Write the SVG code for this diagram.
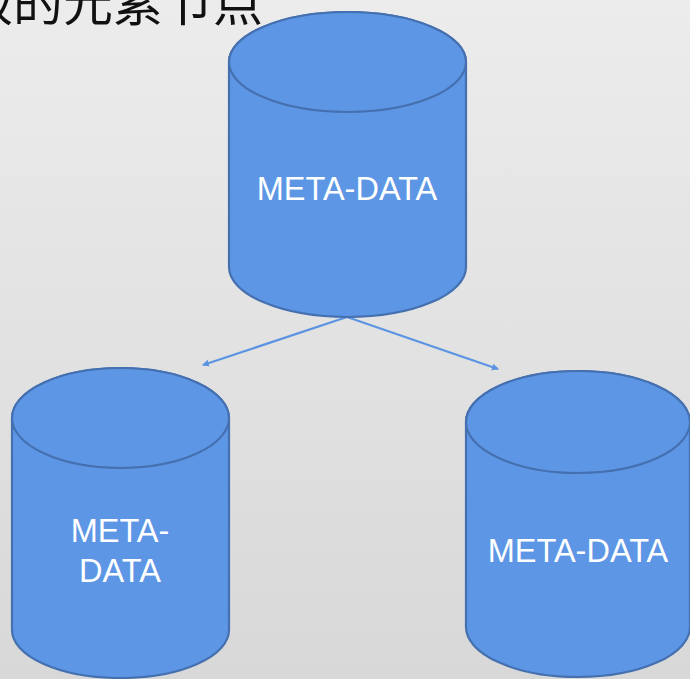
<svg xmlns="http://www.w3.org/2000/svg" width="690" height="679" viewBox="0 0 690 679">
<defs>
<linearGradient id="bg" x1="0" y1="0" x2="0" y2="1">
<stop offset="0" stop-color="#ececec"/>
<stop offset="1" stop-color="#d8d8d8"/>
</linearGradient>
<marker id="ah" markerWidth="8" markerHeight="8" refX="6" refY="4" orient="auto" markerUnits="userSpaceOnUse">
<path d="M0,0.5 L7,4 L0,7.5 Z" fill="#5b94e2"/>
</marker>
<style>
.cyl{fill:#5d96e5;stroke:#4570b0;stroke-width:2.2}
.lbl{font-family:"Liberation Sans",Arial,sans-serif;font-size:32.5px;fill:#ffffff;text-anchor:middle}
.con{stroke:#5b94e2;stroke-width:2.2;fill:none;marker-end:url(#ah)}
</style>
</defs>
<rect width="690" height="679" fill="url(#bg)"/>
<text x="263" y="21" font-family="'Noto Sans CJK SC',sans-serif" font-size="50" fill="#111" text-anchor="end">级的元素节点</text>
<g id="connectors">
<line class="con" x1="347" y1="317" x2="203" y2="365"/>
<line class="con" x1="347" y1="317" x2="498" y2="369"/>
</g>
<g id="top">
<path class="cyl" d="M229,62 L229,267 A118.5,50 0 0 0 466,267 L466,62 A118.5,50 0 0 0 229,62 Z"/>
<ellipse class="cyl" cx="347.5" cy="62" rx="118.5" ry="50"/>
<text class="lbl" x="347" y="200">META-DATA</text>
</g>
<g id="left">
<path class="cyl" d="M12,418 L12,630 A108.5,48 0 0 0 229,630 L229,418 A108.5,50 0 0 0 12,418 Z"/>
<ellipse class="cyl" cx="120.5" cy="418" rx="108.5" ry="50"/>
<text class="lbl" x="120" y="542">META-</text>
<text class="lbl" x="120" y="582">DATA</text>
</g>
<g id="right">
<path class="cyl" d="M466,422 L466,627 A112,50 0 0 0 690,627 L690,422 A112,51 0 0 0 466,422 Z"/>
<ellipse class="cyl" cx="578" cy="422" rx="112" ry="51"/>
<text class="lbl" x="578" y="562">META-DATA</text>
</g>
</svg>
